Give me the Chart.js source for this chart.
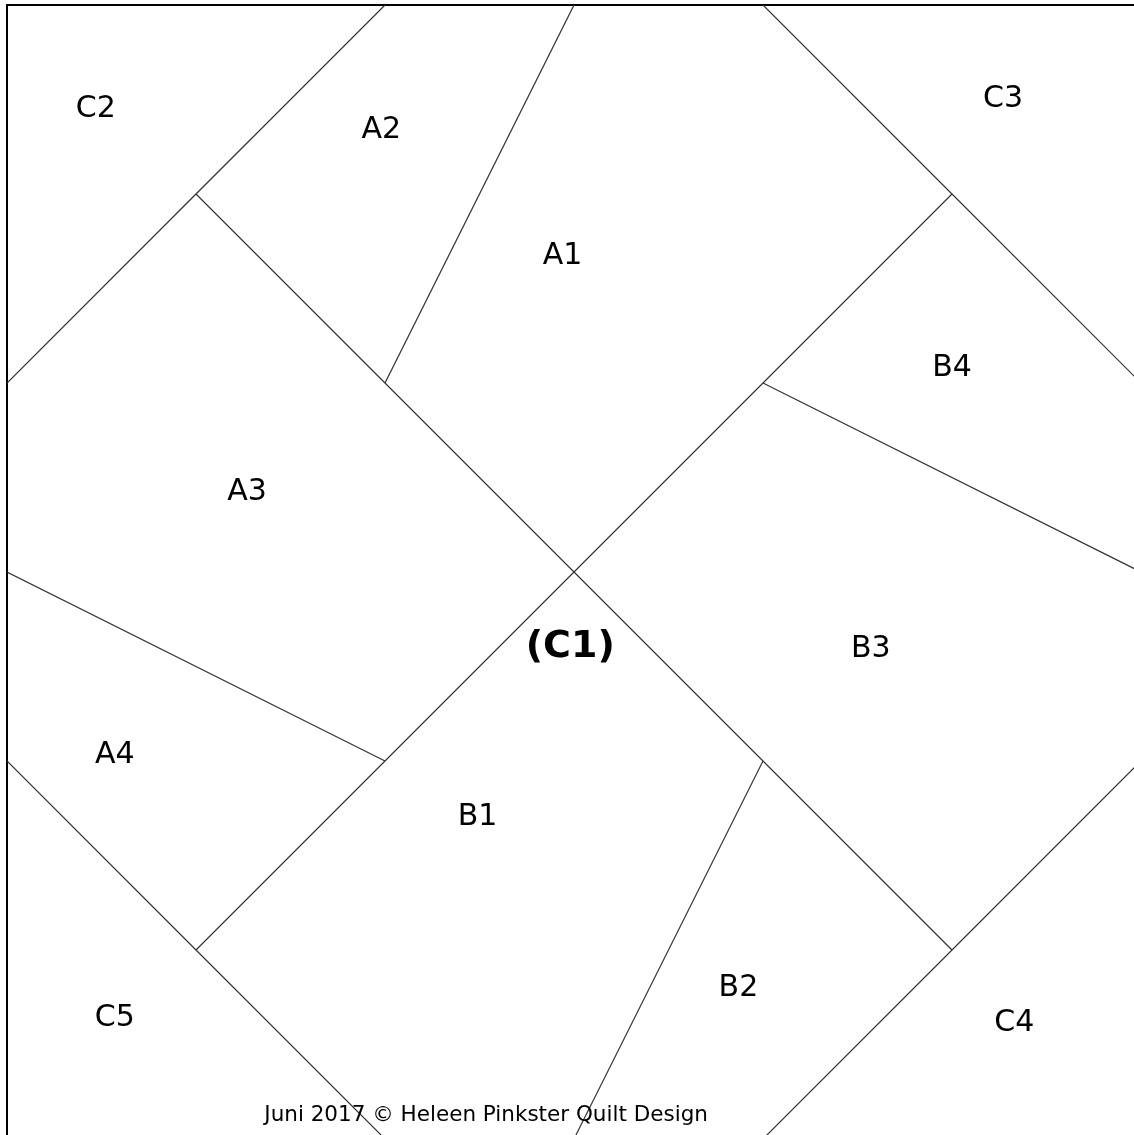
<!DOCTYPE html>
<html>
<head>
<meta charset="utf-8">
<title>Quilt block</title>
<script src="https://cdn.jsdelivr.net/npm/chart.js@4.4.1/dist/chart.umd.min.js"></script>
<style>
    body { margin: 0; background: #ffffff; }
    .chart-wrapper { width: 1134px; height: 1135px; }
</style>
</head>
<body>
<div class="chart-wrapper">
    <canvas id="quilt" width="1134" height="1135"></canvas>
</div>
<script>
// Seam lines, in grid units (block is 6 x 6 units, y grows downward)
const c2Edge = [[2, 0], [1, 1], [0, 2]];
const a2a1Seam = [[3, 0], [2, 2]];
const mainDiagonal = [[1, 1], [2, 2], [3, 3], [4, 4], [5, 5]];
const c3Edge = [[4, 0], [5, 1], [6, 2]];
const antiDiagonal = [[5, 1], [4, 2], [3, 3], [2, 4], [1, 5]];
const b4b3Seam = [[4, 2], [6, 3]];
const a3a4Seam = [[0, 3], [2, 4]];
const c5Edge = [[0, 4], [1, 5], [2, 6]];
const b1b2Seam = [[4, 4], [3, 6]];
const c4Edge = [[6, 4], [5, 5], [4, 6]];

const seams = [c2Edge, a2a1Seam, mainDiagonal, c3Edge, antiDiagonal,
    b4b3Seam, a3a4Seam, c5Edge, b1b2Seam, c4Edge];

// Patch labels
const labelNames = ['C2', 'A2', 'A1', 'C3', 'B4', 'A3', '(C1)', 'B3', 'A4', 'B1', 'B2', 'C5', 'C4'];
const labelX = [0.47, 1.98, 2.94, 5.27, 5.00, 1.27, 2.98, 4.57, 0.57, 2.49, 3.87, 0.57, 5.33];
const labelY = [0.55, 0.66, 1.33, 0.50, 1.92, 2.58, 3.40, 3.41, 3.97, 4.30, 5.20, 5.36, 5.39];

const footerText = 'Juni 2017 \u00A9 Heleen Pinkster Quilt Design';
const footerX = 2.535;
const footerY = 5.875;

// Draw the patch names and the footer on top of the seams
const labelPlugin = {
    id: 'patchLabels',
    afterDatasetsDraw(chart) {
        const { ctx, scales } = chart;
        ctx.save();
        ctx.fillStyle = '#000000';
        ctx.textAlign = 'center';
        ctx.textBaseline = 'middle';
        labelNames.forEach((name, i) => {
            const bold = name === '(C1)';
            ctx.font = bold ? 'bold 38px "DejaVu Sans"' : '30px "DejaVu Sans"';
            ctx.fillText(name, scales.x.getPixelForValue(labelX[i]), scales.y.getPixelForValue(labelY[i]));
        });
        ctx.font = '21.5px "DejaVu Sans"';
        ctx.fillText(footerText, scales.x.getPixelForValue(footerX), scales.y.getPixelForValue(footerY));
        ctx.restore();
    }
};

const datasets = seams.map(points => ({
    data: points.map(p => ({ x: p[0], y: p[1] })),
    showLine: true,
    borderColor: '#333333',
    borderWidth: 1.2,
    pointRadius: 0,
    tension: 0
}));

const hiddenScale = {
    type: 'linear',
    min: 0,
    ticks: { display: false },
    grid: { display: false, drawTicks: false },
    border: { display: true, color: '#000000', width: 2 }
};

new Chart(document.getElementById('quilt'), {
    type: 'scatter',
    data: { datasets },
    options: {
        responsive: false,
        animation: false,
        layout: { padding: { left: 7, top: 5, right: 0, bottom: 0 } },
        plugins: {
            legend: { display: false },
            tooltip: { enabled: false },
            title: { display: false }
        },
        scales: {
            x: { ...hiddenScale, position: 'top', max: 5.963 },
            y: { ...hiddenScale, position: 'left', reverse: true, max: 5.979 }
        }
    },
    plugins: [labelPlugin]
});
</script>
</body>
</html>
